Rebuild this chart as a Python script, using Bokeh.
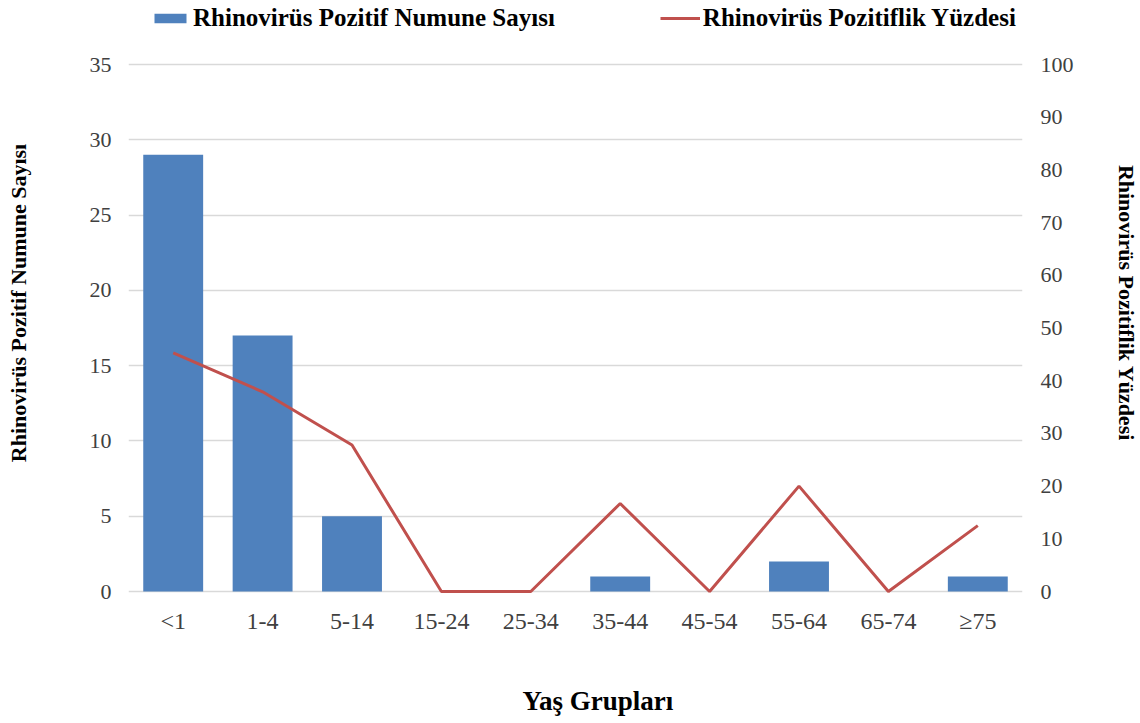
from bokeh.plotting import figure
from bokeh.models import Range1d, LinearAxis, Legend, LegendItem, FixedTicker, Title
from bokeh.embed import file_html
from bokeh.resources import INLINE

categories = ["<1", "1-4", "5-14", "15-24", "25-34", "35-44", "45-54", "55-64", "65-74", "≥75"]
counts = [29, 17, 5, 0, 0, 1, 0, 2, 0, 1]
percent = [45.3, 37.9, 27.8, 0, 0, 16.7, 0, 20.0, 0, 12.5]
left_ticks = [0, 5, 10, 15, 20, 25, 30, 35]
right_ticks = [0, 10, 20, 30, 40, 50, 60, 70, 80, 90, 100]

FONT = "Liberation Serif"
BLUE = "#4F81BD"
RED = "#C0504D"
TICKC = "#404040"

# plot area: 0..35 spans 527 px; extra room above (legend) and a little below
PX_PER_UNIT = 527.0 / 35.0
EXTRA_TOP, EXTRA_BOTTOM = 64.0, 14.0
p = figure(x_range=categories,
           y_range=Range1d(-EXTRA_BOTTOM / PX_PER_UNIT, 35 + EXTRA_TOP / PX_PER_UNIT),
           frame_width=894, frame_height=605,
           output_backend="svg", toolbar_location=None,
           min_border_left=128, min_border_right=118, min_border_top=0, min_border_bottom=114)
p.extra_y_ranges = {"pct": Range1d(-EXTRA_BOTTOM / (527.0 / 100), 100 + EXTRA_TOP / (527.0 / 100))}
p.outline_line_color = None
p.background_fill_color = "white"
p.border_fill_color = "white"

bars = p.vbar(x=categories, top=counts, width=0.67, fill_color=BLUE, line_color=None)
line = p.line(x=categories, y=percent, y_range_name="pct", line_color=RED, line_width=3)

p.xgrid.grid_line_color = None
p.ygrid.grid_line_color = "#D9D9D9"
p.ygrid.grid_line_width = 1.3
p.yaxis.ticker = FixedTicker(ticks=left_ticks)

ra = LinearAxis(y_range_name="pct", ticker=FixedTicker(ticks=right_ticks))
p.add_layout(ra, "right")

for ax in [p.xaxis[0], p.yaxis[0], ra]:
    ax.axis_line_color = None
    ax.major_tick_line_color = None
    ax.minor_tick_line_color = None
    ax.major_tick_out = 0
    ax.major_tick_in = 0
    ax.minor_tick_out = 0
    ax.minor_tick_in = 0
    ax.major_label_text_font = FONT
    ax.major_label_text_font_size = "22px"
    ax.major_label_text_color = TICKC
    ax.axis_label_text_font = FONT
    ax.axis_label_text_font_style = "bold"
    ax.axis_label_text_color = "black"
    ax.axis_label_text_font_size = "22px"

p.yaxis.axis_label = "Rhinovirüs Pozitif Numune Sayısı"
p.yaxis.major_label_standoff = 17
p.yaxis.axis_label_standoff = 56

ra.axis_label = "Rhinovirüs Pozitiflik Yüzdesi"
ra.major_label_standoff = 18
ra.axis_label_standoff = 37

p.xaxis.major_label_text_font_size = "24px"
p.xaxis.major_label_standoff = 2
# blank spacer label to push the x title down
p.xaxis.axis_label = " "
p.xaxis.axis_label_text_font_size = "1px"
p.xaxis.axis_label_standoff = 38

xtitle = Title(text="Yaş Grupları", align="left", offset=394, standoff=10,
               text_font=FONT, text_font_style="bold", text_font_size="27px", text_color="black")
p.add_layout(xtitle, "below")

legend = Legend(items=[LegendItem(label="Rhinovirüs Pozitif Numune Sayısı", renderers=[bars]),
                       LegendItem(label="Rhinovirüs Pozitiflik Yüzdesi", renderers=[line])],
                orientation="horizontal", location=(22, 573), margin=0, padding=0,
                spacing=105, glyph_width=40, glyph_height=12, label_standoff=3,
                label_text_font=FONT, label_text_font_style="bold", label_text_font_size="25px",
                label_text_color="black",
                border_line_alpha=0, background_fill_alpha=0)
p.add_layout(legend, "center")

open("out.html", "w").write(file_html(p, INLINE))
